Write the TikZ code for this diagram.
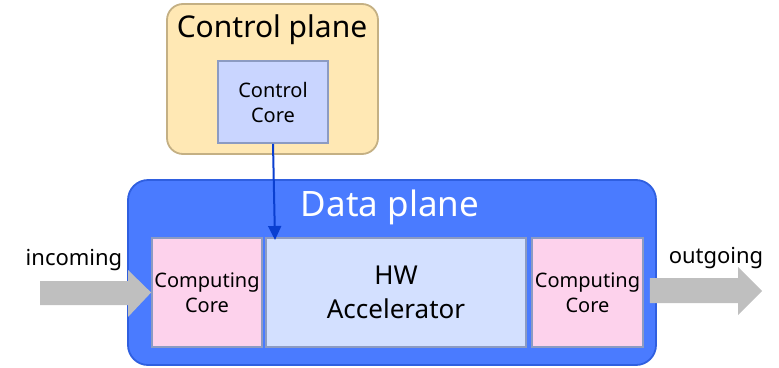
\documentclass[tikz,border=0pt]{standalone}
\usepackage{fontspec}
\setmainfont{Noto Sans}
\usetikzlibrary{arrows.meta,calc}
\definecolor{ctrlfill}{HTML}{FFE8B4}
\definecolor{ctrledge}{HTML}{C4B084}
\definecolor{corefill}{HTML}{C9D5FF}
\definecolor{coreedge}{HTML}{8C9BC2}
\definecolor{datafill}{HTML}{4A7BFF}
\definecolor{dataedge}{HTML}{2F5FE0}
\definecolor{hwfill}{HTML}{D3E0FF}
\definecolor{pinkfill}{HTML}{FDD2EC}
\definecolor{flowgray}{HTML}{BFBFBF}
\definecolor{linkblue}{HTML}{0A3FD0}
\tikzset{
  plane/.style={rounded corners=16pt, line width=1.8pt},
  unitbox/.style={draw=coreedge, line width=1.8pt, inner sep=0pt, align=center},
  corefont/.style={font=\fontsize{20}{25}\selectfont},
  flowarrow/.style={fill=flowgray, draw=none},
  lbl/.style={font=\fontsize{22}{26}\selectfont, inner sep=0pt}
}
\begin{document}
\begin{tikzpicture}[x=1pt, y=-1pt]
\useasboundingbox (0,0) rectangle (779,367);

% control plane
\draw[plane, fill=ctrlfill, draw=ctrledge] (167,4) rectangle (378,154);
\node[font=\fontsize{30}{34}\selectfont, inner sep=0pt] (cptitle) at (272,30) {Control plane};
\node[unitbox, corefont, fill=corefill, minimum width=110pt, minimum height=82pt] (ccore) at (273,102) {Control\\Core};

% data plane
\draw[plane, rounded corners=20pt, fill=datafill, draw=dataedge] (128,180) rectangle (656,365);
\node[font=\fontsize{35}{40}\selectfont, text=white, inner sep=0pt] (dptitle) at (390,207) {Data plane};

\node[unitbox, corefont, fill=pinkfill, minimum width=110pt, minimum height=109pt] (cleft) at (207,292.5) {Computing\\Core};
\node[unitbox, fill=hwfill, minimum width=260pt, minimum height=109pt,
      font=\fontsize{26}{34}\selectfont] (hw) at (396,292.5) {HW\\Accelerator};
\node[unitbox, corefont, fill=pinkfill, minimum width=111pt, minimum height=109pt] (cright) at (587.5,292.5) {Computing\\Core};

% control link into the accelerator
\coordinate (hwin) at (275,240);
\draw[linkblue, line width=2pt, -{Triangle[length=14pt, width=13pt]}]
  (ccore.south) -- (hwin);

% incoming traffic
\coordinate (intail) at (40,293);
\fill[flowarrow] (intail) ++(0,-12) -- (128,281) -- (128,270) -- (cleft.west)
  -- (128,317) -- (128,305) -- (40,305) -- cycle;
\node[lbl] (inlbl) at (74,260) {incoming};

% outgoing traffic
\coordinate (outtip) at (762,291);
\fill[flowarrow] ([xshift=6pt]cright.east |- 0,278) -- (738,278) -- (738,267) -- (outtip)
  -- (738,315) -- (738,303) -- ([xshift=6pt]cright.east |- 0,303) -- cycle;
\node[lbl] (outlbl) at (716,258) {outgoing};
\end{tikzpicture}
\end{document}
